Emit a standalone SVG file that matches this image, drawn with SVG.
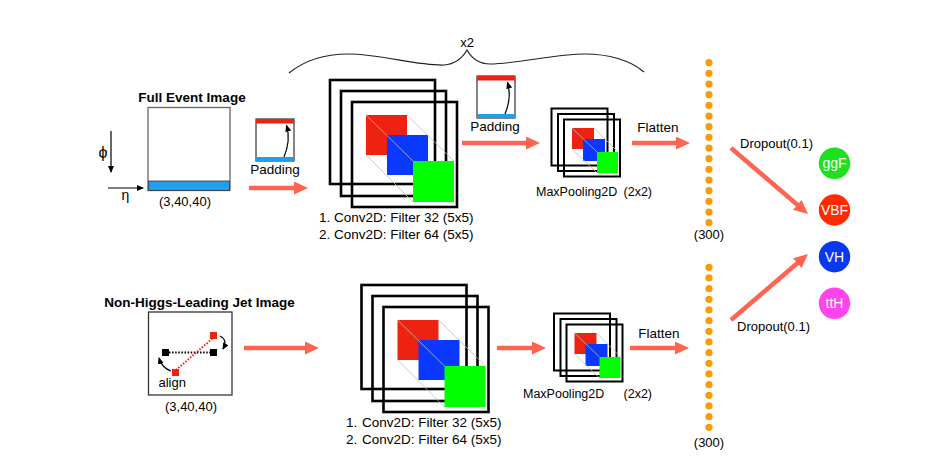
<svg xmlns="http://www.w3.org/2000/svg" width="935" height="475" viewBox="0 0 935 475">
<style>
text{font-family:"Liberation Sans",Arial,Helvetica,sans-serif;fill:#000;}
.lbl{font-size:13.5px;}
.sm{font-size:13px;}
.mp{font-size:12.5px;}
.ttl{font-size:13.5px;font-weight:bold;}
.ctr{text-anchor:middle;}
.frame{fill:none;stroke:#000;stroke-width:2.6;}
.pframe{fill:none;stroke:#000;stroke-width:2;}
.guide{stroke:#bbb;stroke-width:0.8;fill:none;}
.fr{fill:#EE2211;}
.fb{fill:#0A38FF;}
.fg{fill:#00FF00;}
.big{stroke:#FF6450;stroke-width:4.5;fill:none;}
.thin{stroke:#000;stroke-width:1.2;fill:none;}
.dot{fill:#FF9A00;}
.cls{font-size:14px;fill:#fff;text-anchor:middle;}
</style>
<defs>
<marker id="bigHead" markerUnits="userSpaceOnUse" markerWidth="14" markerHeight="13" viewBox="0 0 14 13" refX="3" refY="6.5" orient="auto">
<path d="M0,0 L14,6.5 L0,13 z" fill="#FF6450"/>
</marker>
<marker id="smHead" markerUnits="userSpaceOnUse" markerWidth="7" markerHeight="6" viewBox="0 0 7 6" refX="6" refY="3" orient="auto">
<path d="M0,0 L7,3 L0,6 z" fill="#000"/>
</marker>
<g id="convStack">
<rect class="frame" x="0" y="0" width="105" height="104"/>
<rect class="frame" x="11" y="11" width="105" height="105"/>
<rect class="frame" x="22" y="22" width="105" height="105"/>
<rect class="fr" x="36" y="35" width="41" height="40"/>
<rect class="fb" x="57" y="55" width="41" height="40"/>
<path class="guide" d="M36,35 L83,81 M77,35 L124,81 M36,75 L83,122"/>
<rect class="fg" x="83" y="81" width="41" height="41"/>
</g>
<g id="poolStack">
<rect class="pframe" x="0" y="0" width="56" height="57"/>
<rect class="pframe" x="6.5" y="5.5" width="56" height="57"/>
<rect class="pframe" x="12.5" y="11" width="56" height="57"/>
<rect class="fr" x="20.5" y="19.5" width="22" height="21"/>
<rect class="fb" x="31.5" y="30.5" width="22" height="22"/>
<path class="guide" d="M20.5,19.5 L45.5,43.5 M42.5,19.5 L66.5,43.5 M20.5,40.5 L45.5,64.5"/>
<rect class="fg" x="45.5" y="43.5" width="21" height="21"/>
</g>
<g id="padIcon">
<rect x="0" y="0" width="38" height="42" fill="#fff" stroke="#333" stroke-width="1.2"/>
<rect x="0" y="0" width="38" height="4.5" fill="#EE2211"/>
<rect x="0" y="38" width="38" height="4" fill="#1E9FF0"/>
<path class="thin" d="M28,38 Q35,21 30.5,6.5" stroke-width="1.5" marker-end="url(#smHead)"/>
</g>
<g id="dots">
<circle class="dot" cx="0" cy="0" r="3.6"/><circle class="dot" cx="0" cy="10.67" r="3.6"/><circle class="dot" cx="0" cy="21.33" r="3.6"/><circle class="dot" cx="0" cy="32" r="3.6"/>
<circle class="dot" cx="0" cy="42.67" r="3.6"/><circle class="dot" cx="0" cy="53.33" r="3.6"/><circle class="dot" cx="0" cy="64" r="3.6"/><circle class="dot" cx="0" cy="74.67" r="3.6"/>
<circle class="dot" cx="0" cy="85.33" r="3.6"/><circle class="dot" cx="0" cy="96" r="3.6"/><circle class="dot" cx="0" cy="106.67" r="3.6"/><circle class="dot" cx="0" cy="117.33" r="3.6"/>
<circle class="dot" cx="0" cy="128" r="3.6"/><circle class="dot" cx="0" cy="138.67" r="3.6"/><circle class="dot" cx="0" cy="149.33" r="3.6"/><circle class="dot" cx="0" cy="160" r="3.6"/>
</g>
</defs>

<g id="full-event-image">
<text class="ttl ctr" x="192" y="102">Full Event Image</text>
<rect x="148" y="107.5" width="82" height="83" fill="#fff" stroke="#666" stroke-width="1.3"/>
<rect x="148.5" y="181" width="81" height="9.5" fill="#1E9FF0" stroke="#333" stroke-width="0.8"/>
<line class="thin" x1="111" y1="131" x2="111" y2="172" marker-end="url(#smHead)"/>
<text class="ctr" style="font-size:16px" x="103" y="158">ϕ</text>
<line class="thin" x1="108" y1="188" x2="143" y2="188" marker-end="url(#smHead)"/>
<text class="ctr" style="font-size:14px" x="125.5" y="200">η</text>
<text class="sm ctr" x="185" y="206">(3,40,40)</text>
</g>

<g id="padding-1">
<use href="#padIcon" x="256" y="119"/>
<text class="lbl ctr" x="275" y="174">Padding</text>
</g>

<g id="brace">
<path d="M289,73 C305,60 325,54 348,54 C380,54 418,66 444,65 C457,64 463,57 467,50 C471,57 477,64 490,64 C516,64 555,54 585,54 C608,54 630,60 644,72" fill="none" stroke="#222" stroke-width="1.2"/>
<text class="sm ctr" x="467" y="47">x2</text>
</g>

<g id="conv-1">
<use href="#convStack" x="330" y="80"/>
<text class="lbl" x="319" y="222">1.</text>
<text class="lbl" x="334" y="222">Conv2D: Filter 32 (5x5)</text>
<text class="lbl" x="319" y="239">2.</text>
<text class="lbl" x="334" y="239">Conv2D: Filter 64 (5x5)</text>
</g>

<g id="padding-2">
<use href="#padIcon" x="477" y="76"/>
<text class="lbl ctr" x="495" y="131">Padding</text>
</g>

<g id="maxpool-1">
<use href="#poolStack" x="551.5" y="108.5"/>
<text class="mp" x="536" y="196">MaxPooling2D</text>
<text class="mp" x="652" y="196" text-anchor="end">(2x2)</text>
</g>

<g id="flatten-1">
<text class="lbl ctr" x="658" y="132">Flatten</text>
<use href="#dots" x="709" y="62.7"/>
<text class="sm ctr" x="709" y="239">(300)</text>
</g>

<g id="nonhiggs-image">
<text class="ttl ctr" x="199.5" y="306.5">Non-Higgs-Leading Jet Image</text>
<rect x="148.5" y="312" width="83.5" height="83" fill="#fff" stroke="#333" stroke-width="1.3"/>
<line x1="169" y1="352.5" x2="210" y2="352.5" stroke="#000" stroke-width="2" stroke-dasharray="1.5,1.6"/>
<line x1="176" y1="370" x2="213" y2="338" stroke="#EE2211" stroke-width="2" stroke-dasharray="1.5,1.6"/>
<rect x="162" y="349" width="7" height="7" fill="#000"/>
<rect x="210" y="349" width="7" height="7" fill="#000"/>
<rect x="210" y="332" width="7" height="7" fill="#EE2211"/>
<rect x="172" y="369" width="7" height="7" fill="#EE2211"/>
<path class="thin" d="M220,336 Q228,340 223,349" stroke-width="1.5" marker-end="url(#smHead)"/>
<path class="thin" d="M171,371 Q162,368 159,358" stroke-width="1.5" marker-end="url(#smHead)"/>
<text class="sm" x="158.5" y="387">align</text>
<text class="sm ctr" x="191" y="411">(3,40,40)</text>
</g>

<g id="conv-2">
<use href="#convStack" x="361.5" y="285"/>
<text class="lbl" x="346" y="427">1.</text>
<text class="lbl" x="362" y="427">Conv2D: Filter 32 (5x5)</text>
<text class="lbl" x="346" y="444">2.</text>
<text class="lbl" x="362" y="444">Conv2D: Filter 64 (5x5)</text>
</g>

<g id="maxpool-2">
<use href="#poolStack" x="554" y="313.5"/>
<text class="mp" x="523" y="398">MaxPooling2D</text>
<text class="mp" x="652" y="398" text-anchor="end">(2x2)</text>
</g>

<g id="flatten-2">
<text class="lbl ctr" x="659" y="338">Flatten</text>
<use href="#dots" x="709" y="267.3"/>
<text class="sm ctr" x="709" y="447">(300)</text>
</g>

<g id="class-ggF"><circle cx="834.5" cy="163.3" r="15.7" fill="#1EE01E"/><text class="cls" x="834.5" y="168.3">ggF</text></g>
<g id="class-VBF"><circle cx="834.5" cy="210" r="15.7" fill="#FF2A00"/><text class="cls" x="834.5" y="215">VBF</text></g>
<g id="class-VH"><circle cx="834.5" cy="256.7" r="15.7" fill="#0A38F0"/><text class="cls" x="834.5" y="261.7">VH</text></g>
<g id="class-ttH"><circle cx="834.5" cy="303.3" r="15.7" fill="#FF44EE"/><text class="cls" x="834.5" y="308.3">ttH</text></g>

<g id="connectors">
<line class="big" x1="249" y1="188" x2="297" y2="188" marker-end="url(#bigHead)"/>
<line class="big" x1="462" y1="143" x2="529" y2="143" marker-end="url(#bigHead)"/>
<line class="big" x1="632" y1="143" x2="679" y2="143" marker-end="url(#bigHead)"/>
<line class="big" x1="244" y1="348" x2="308" y2="348" marker-end="url(#bigHead)"/>
<line class="big" x1="497" y1="348" x2="535" y2="348" marker-end="url(#bigHead)"/>
<line class="big" x1="630" y1="348" x2="678" y2="348" marker-end="url(#bigHead)"/>
<line class="big" x1="731" y1="148" x2="799.6" y2="206.8" marker-end="url(#bigHead)"/>
<line class="big" x1="731" y1="320" x2="799.6" y2="261.2" marker-end="url(#bigHead)"/>
<text class="sm" x="740" y="148">Dropout(0.1)</text>
<text class="sm" x="737" y="331">Dropout(0.1)</text>
</g>
</svg>
